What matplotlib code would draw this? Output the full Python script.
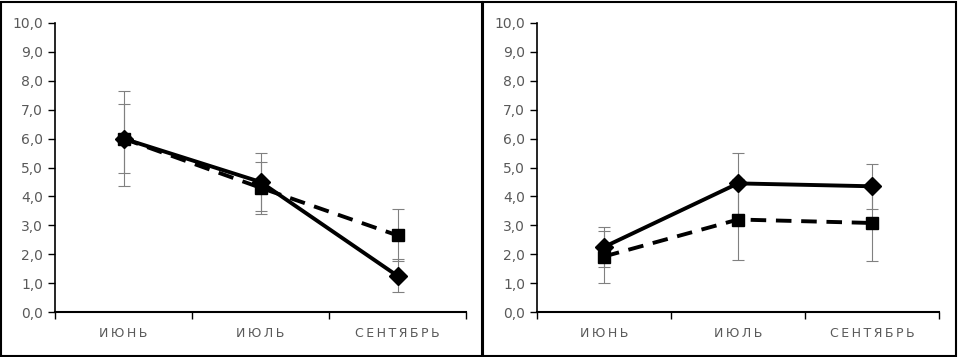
import matplotlib.pyplot as plt
from matplotlib.patches import Rectangle
from matplotlib.ticker import FuncFormatter, MultipleLocator

# months (letters spaced out like the original)
months = ["ИЮНЬ", "ИЮЛЬ", "СЕНТЯБРЬ"]

# left panel
left_solid = [6.0, 4.5, 1.25]
left_solid_err = [1.65, 1.0, 0.57]
left_dash = [6.0, 4.3, 2.65]
left_dash_err = [1.2, 0.9, 0.9]

# right panel
right_solid = [2.25, 4.45, 4.35]
right_solid_err = [0.7, 1.05, 0.77]
right_dash = [1.92, 3.2, 3.08]
right_dash_err = [0.9, 1.4, 1.33]

W, H = 958, 357
fig = plt.figure(figsize=(W / 100, H / 100), dpi=100)

# panel frames
fig.patches.append(Rectangle((1 / W, 1 / H), 481 / W, 354 / H, transform=fig.transFigure,
                             fill=False, edgecolor="black", linewidth=1.5))
fig.patches.append(Rectangle((483 / W, 1 / H), 473 / W, 354 / H, transform=fig.transFigure,
                             fill=False, edgecolor="black", linewidth=1.5))

spaced = ["\u2009".join(m) for m in months]
x = [1, 2, 3]


def draw(ax, solid, solid_err, dash, dash_err):
    ax.errorbar(x, dash, yerr=dash_err, fmt="none", ecolor="#808080", elinewidth=0.8,
                capsize=4, capthick=0.8, zorder=1)
    ax.errorbar(x, solid, yerr=solid_err, fmt="none", ecolor="#808080", elinewidth=0.8,
                capsize=4, capthick=0.8, zorder=1)
    ax.plot(x, dash, color="black", linewidth=2.8, linestyle=(0, (4, 2.5)),
            marker="s", markersize=9, zorder=3)
    ax.plot(x, solid, color="black", linewidth=2.8, marker="D", markersize=9, zorder=4)
    ax.set_xlim(0.5, 3.5)
    ax.set_ylim(0, 10)
    ax.yaxis.set_major_locator(MultipleLocator(1))
    ax.yaxis.set_major_formatter(FuncFormatter(lambda v, p: f"{v:.1f}".replace(".", ",")))
    ax.set_xticks(x)
    ax.set_xticklabels(spaced, family=["DejaVu Sans"])
    ax.set_xticks([0.5, 1.5, 2.5, 3.5], minor=True)
    ax.tick_params(axis="x", which="major", length=0, pad=11, labelsize=9, labelcolor="#595959")
    ax.tick_params(axis="x", which="minor", length=5, width=1, direction="out", color="black")
    ax.tick_params(axis="y", length=5, width=1, direction="out", labelsize=10,
                   labelcolor="#595959", color="black")
    for s in ["top", "right"]:
        ax.spines[s].set_visible(False)
    ax.spines["left"].set_linewidth(1.2)
    ax.spines["bottom"].set_linewidth(1.5)


ax1 = fig.add_axes([55 / W, 45 / H, 411 / W, 289 / H])
draw(ax1, left_solid, left_solid_err, left_dash, left_dash_err)

ax2 = fig.add_axes([537 / W, 45 / H, 402 / W, 289 / H])
draw(ax2, right_solid, right_solid_err, right_dash, right_dash_err)

fig.savefig("out.png", dpi=100)
